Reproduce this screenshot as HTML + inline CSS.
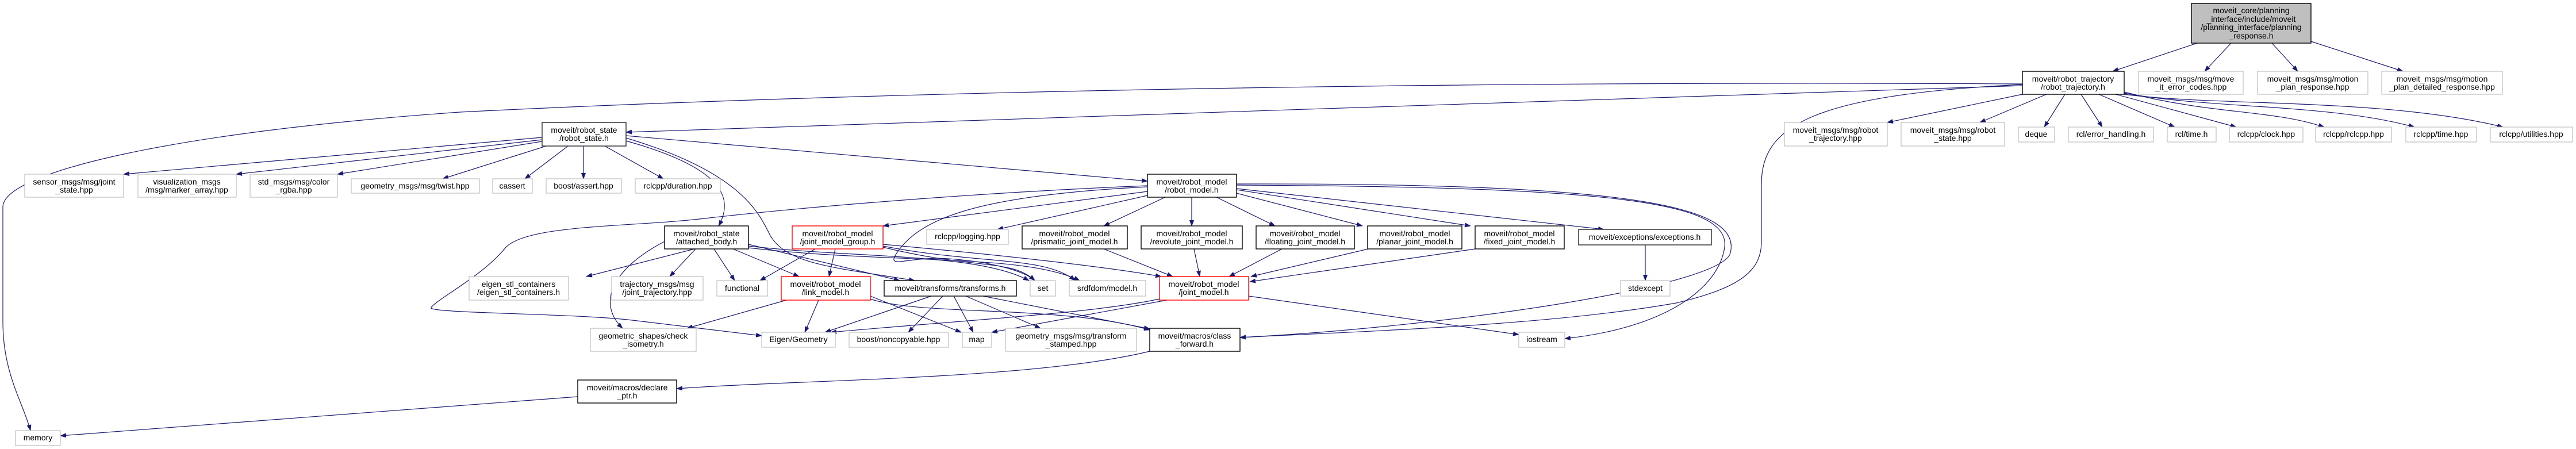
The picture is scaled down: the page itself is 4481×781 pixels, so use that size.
<!DOCTYPE html>
<html><head><meta charset="utf-8"><style>
html,body{margin:0;padding:0;background:#fff;}
svg{display:block;}
text{font-family:"Liberation Sans",sans-serif;font-size:14px;fill:#000;text-anchor:middle;}
.g{fill:#fff;stroke:#bfbfbf;stroke-width:1.2;}
.b{fill:#fff;stroke:#000;stroke-width:1.4;}
.r{fill:#fff;stroke:#ff0000;stroke-width:1.4;}
.d{fill:#fff;stroke:#404040;stroke-width:1.6;}
.e{fill:none;stroke:#191970;stroke-width:1.2;marker-end:url(#a);}
</style></head><body>
<svg width="4481" height="781" viewBox="0 0 4481 781" xmlns="http://www.w3.org/2000/svg">
<defs><marker id="a" markerUnits="userSpaceOnUse" markerWidth="11" markerHeight="8" refX="10" refY="4" orient="auto"><path d="M0,0 L11,4 L0,8 z" fill="#191970"/></marker></defs>

<path class="e" d="M3822,75 L3675,124"/>
<path class="e" d="M3881,75 L3835,124"/>
<path class="e" d="M3952,75 L3997,124"/>
<path class="e" d="M4020,72 L4180,124"/>
<path class="e" d="M3518,164 L3283,213"/>
<path class="e" d="M3560,164 L3444,213"/>
<path class="e" d="M3592,164 L3556,221"/>
<path class="e" d="M3620,164 L3657,221"/>
<path class="e" d="M3651,164 L3783,221"/>
<path class="e" d="M3680,164 L3890,221"/>
<path class="e" d="M3695,160 C3850,200 3950,190 4043,221"/>
<path class="e" d="M3695,162 C3850,190 4050,180 4200,221"/>
<path class="e" d="M3695,164 C3850,185 4150,170 4354,221"/>
<path class="e" d="M3518,149 C3200,158 1600,213 1089,230"/>
<path class="e" d="M3518,146 C2500,140 1500,160 800,195 C300,230 5,300 5,360 L5,560 C5,650 40,700 53,749"/>
<path class="e" d="M3518,147 C3150,165 3064,220 3064,320 L3064,420 C3064,470 3030,500 2916,527 C2700,565 2400,575 2157,587"/>
<path class="e" d="M2151,322 C2800,325 3010,350 3000,430 C2990,500 2900,570 2722,589"/>
<path class="e" d="M2151,320 C2850,318 3030,360 3010,440 C2995,500 2500,570 2157,587"/>
<path class="e" d="M1996,323 C1700,335 1400,360 1225,380 C1100,395 920,390 880,430 C840,480 760,520 750,535 C740,545 1000,545 1100,557 L1325,584"/>
<path class="e" d="M1996,333 L1536,393"/>
<path class="e" d="M1996,340 L1735,399"/>
<path class="e" d="M2027,343 L1920,393"/>
<path class="e" d="M2073,343 L2073,393"/>
<path class="e" d="M2116,343 L2218,393"/>
<path class="e" d="M2151,336 L2370,393"/>
<path class="e" d="M2151,330 L2558,393"/>
<path class="e" d="M2151,328 L2790,399"/>
<path class="e" d="M1995,325 C1700,340 1600,380 1560,440 C1540,470 1580,445 1650,450 C1720,455 1780,470 1800,488"/>
<path class="e" d="M943,239 L215,303"/>
<path class="e" d="M943,243 L411,303"/>
<path class="e" d="M943,246 L587,303"/>
<path class="e" d="M950,254 L770,311"/>
<path class="e" d="M988,254 L913,311"/>
<path class="e" d="M1015,254 L1015,311"/>
<path class="e" d="M1052,254 L1154,311"/>
<path class="e" d="M1089,236 L1996,315"/>
<path class="e" d="M1089,245 C1250,290 1280,340 1250,393"/>
<path class="e" d="M1089,240 C1290,300 1320,370 1340,410 C1370,460 1450,465 1591,488"/>
<path class="e" d="M1208,433 L1020,481"/>
<path class="e" d="M1210,433 L1165,481"/>
<path class="e" d="M1242,433 L1278,488"/>
<path class="e" d="M1275,433 L1390,481"/>
<path class="e" d="M1156,420 C1060,470 1040,530 1083,571"/>
<path class="e" d="M1302,425 L1565,488"/>
<path class="e" d="M1302,428 C1500,450 1700,440 1790,488"/>
<path class="e" d="M1302,431 C1550,460 1780,440 1878,488"/>
<path class="e" d="M1418,433 L1322,488"/>
<path class="e" d="M1453,433 L1442,481"/>
<path class="e" d="M1536,425 C1700,440 1900,460 2020,481"/>
<path class="e" d="M1536,430 C1700,470 1760,450 1800,488"/>
<path class="e" d="M1536,428 C1700,460 1820,445 1870,488"/>
<path class="e" d="M1368,522 L1195,571"/>
<path class="e" d="M1424,522 L1400,578"/>
<path class="e" d="M1514,515 L1672,578"/>
<path class="e" d="M1514,520 C1600,550 1850,530 2000,574"/>
<path class="e" d="M1620,515 L1435,578"/>
<path class="e" d="M1640,515 L1580,578"/>
<path class="e" d="M1659,515 L1693,578"/>
<path class="e" d="M1680,515 L1810,571"/>
<path class="e" d="M1710,515 L2000,572"/>
<path class="e" d="M2017,520 C1900,545 1700,555 1445,578"/>
<path class="e" d="M2030,522 L1725,578"/>
<path class="e" d="M2172,515 L2642,582"/>
<path class="e" d="M1920,433 L2040,481"/>
<path class="e" d="M2077,433 L2087,481"/>
<path class="e" d="M2230,433 L2138,481"/>
<path class="e" d="M2380,433 L2176,481"/>
<path class="e" d="M2566,433 L2174,490"/>
<path class="e" d="M2862,426 L2862,488"/>
<path class="e" d="M2000,611 C1800,660 1400,660 1177,676"/>
<path class="e" d="M1005,690 L105,758"/>

<rect x="3812" y="6" width="208" height="69" fill="#bfbfbf" stroke="#000" stroke-width="1.4"/>
<text x="3916" y="23">moveit_core/planning</text><text x="3916" y="38">_interface/include/moveit</text><text x="3916" y="52">/planning_interface/planning</text><text x="3916" y="67">_response.h</text>

<rect class="b" x="3518" y="124" width="177" height="40"/><text x="3606" y="142">moveit/robot_trajectory</text><text x="3606" y="156">/robot_trajectory.h</text>
<rect class="g" x="3720" y="124" width="182" height="40"/><text x="3811" y="142">moveit_msgs/msg/move</text><text x="3811" y="156">_it_error_codes.hpp</text>
<rect class="g" x="3927" y="124" width="192" height="40"/><text x="4023" y="142">moveit_msgs/msg/motion</text><text x="4023" y="156">_plan_response.hpp</text>
<rect class="g" x="4143" y="124" width="210" height="40"/><text x="4248" y="142">moveit_msgs/msg/motion</text><text x="4248" y="156">_plan_detailed_response.hpp</text>

<rect class="g" x="3104" y="213" width="179" height="41"/><text x="3193" y="231">moveit_msgs/msg/robot</text><text x="3193" y="245">_trajectory.hpp</text>
<rect class="g" x="3307" y="213" width="180" height="41"/><text x="3397" y="231">moveit_msgs/msg/robot</text><text x="3397" y="245">_state.hpp</text>
<rect class="g" x="3511" y="221" width="63" height="26"/><text x="3542" y="238">deque</text>
<rect class="g" x="3598" y="221" width="148" height="26"/><text x="3672" y="238">rcl/error_handling.h</text>
<rect class="g" x="3770" y="221" width="85" height="26"/><text x="3812" y="238">rcl/time.h</text>
<rect class="g" x="3878" y="221" width="128" height="26"/><text x="3942" y="238">rclcpp/clock.hpp</text>
<rect class="g" x="4028" y="221" width="132" height="26"/><text x="4094" y="238">rclcpp/rclcpp.hpp</text>
<rect class="g" x="4185" y="221" width="123" height="26"/><text x="4246" y="238">rclcpp/time.hpp</text>
<rect class="g" x="4332" y="221" width="143" height="26"/><text x="4403" y="238">rclcpp/utilities.hpp</text>

<rect class="d" x="943" y="213" width="146" height="41"/><text x="1016" y="231">moveit/robot_state</text><text x="1016" y="245">/robot_state.h</text>
<rect class="g" x="43" y="303" width="172" height="40"/><text x="129" y="321">sensor_msgs/msg/joint</text><text x="129" y="335">_state.hpp</text>
<rect class="g" x="240" y="303" width="171" height="40"/><text x="325" y="321">visualization_msgs</text><text x="325" y="335">/msg/marker_array.hpp</text>
<rect class="g" x="435" y="303" width="152" height="40"/><text x="511" y="321">std_msgs/msg/color</text><text x="511" y="335">_rgba.hpp</text>
<rect class="g" x="611" y="311" width="223" height="25"/><text x="722" y="328">geometry_msgs/msg/twist.hpp</text>
<rect class="g" x="857" y="311" width="69" height="25"/><text x="891" y="328">cassert</text>
<rect class="g" x="950" y="311" width="131" height="25"/><text x="1015" y="328">boost/assert.hpp</text>
<rect class="g" x="1105" y="311" width="148" height="25"/><text x="1179" y="328">rclcpp/duration.hpp</text>

<rect class="b" x="1996" y="303" width="155" height="40"/><text x="2073" y="321">moveit/robot_model</text><text x="2073" y="335">/robot_model.h</text>

<rect class="b" x="1156" y="393" width="146" height="40"/><text x="1229" y="411">moveit/robot_state</text><text x="1229" y="425">/attached_body.h</text>
<rect class="r" x="1378" y="393" width="158" height="40"/><text x="1457" y="411">moveit/robot_model</text><text x="1457" y="425">/joint_model_group.h</text>
<rect class="g" x="1612" y="399" width="142" height="26"/><text x="1683" y="416">rclcpp/logging.hpp</text>
<rect class="b" x="1778" y="393" width="183" height="40"/><text x="1869" y="411">moveit/robot_model</text><text x="1869" y="425">/prismatic_joint_model.h</text>
<rect class="b" x="1985" y="393" width="176" height="40"/><text x="2073" y="411">moveit/robot_model</text><text x="2073" y="425">/revolute_joint_model.h</text>
<rect class="b" x="2185" y="393" width="171" height="40"/><text x="2270" y="411">moveit/robot_model</text><text x="2270" y="425">/floating_joint_model.h</text>
<rect class="b" x="2379" y="393" width="164" height="40"/><text x="2461" y="411">moveit/robot_model</text><text x="2461" y="425">/planar_joint_model.h</text>
<rect class="b" x="2566" y="393" width="155" height="40"/><text x="2643" y="411">moveit/robot_model</text><text x="2643" y="425">/fixed_joint_model.h</text>
<rect class="d" x="2746" y="399" width="231" height="27"/><text x="2861" y="417">moveit/exceptions/exceptions.h</text>

<rect class="g" x="816" y="481" width="173" height="41"/><text x="902" y="499">eigen_stl_containers</text><text x="902" y="513">/eigen_stl_containers.h</text>
<rect class="g" x="1064" y="481" width="159" height="41"/><text x="1143" y="499">trajectory_msgs/msg</text><text x="1143" y="513">/joint_trajectory.hpp</text>
<rect class="g" x="1247" y="488" width="88" height="27"/><text x="1291" y="506">functional</text>
<rect class="r" x="1359" y="481" width="155" height="41"/><text x="1436" y="499">moveit/robot_model</text><text x="1436" y="513">/link_model.h</text>
<rect class="b" x="1538" y="488" width="230" height="27"/><text x="1653" y="506">moveit/transforms/transforms.h</text>
<rect class="g" x="1792" y="488" width="44" height="27"/><text x="1814" y="506">set</text>
<rect class="g" x="1860" y="488" width="133" height="27"/><text x="1926" y="506">srdfdom/model.h</text>
<rect class="r" x="2017" y="481" width="155" height="41"/><text x="2094" y="499">moveit/robot_model</text><text x="2094" y="513">/joint_model.h</text>
<rect class="g" x="2819" y="488" width="86" height="27"/><text x="2862" y="506">stdexcept</text>

<rect class="g" x="1027" y="571" width="184" height="40"/><text x="1119" y="589">geometric_shapes/check</text><text x="1119" y="603">_isometry.h</text>
<rect class="g" x="1325" y="578" width="128" height="26"/><text x="1389" y="595">Eigen/Geometry</text>
<rect class="g" x="1477" y="578" width="173" height="26"/><text x="1563" y="595">boost/noncopyable.hpp</text>
<rect class="g" x="1674" y="578" width="51" height="26"/><text x="1699" y="595">map</text>
<rect class="g" x="1749" y="571" width="228" height="40"/><text x="1863" y="589">geometry_msgs/msg/transform</text><text x="1863" y="603">_stamped.hpp</text>
<rect class="b" x="2000" y="571" width="157" height="40"/><text x="2078" y="589">moveit/macros/class</text><text x="2078" y="603">_forward.h</text>
<rect class="g" x="2642" y="578" width="80" height="26"/><text x="2682" y="595">iostream</text>

<rect class="b" x="1005" y="661" width="172" height="40"/><text x="1091" y="679">moveit/macros/declare</text><text x="1091" y="693">_ptr.h</text>
<rect class="g" x="27" y="749" width="78" height="26"/><text x="66" y="766">memory</text>
</svg>
</body></html>
